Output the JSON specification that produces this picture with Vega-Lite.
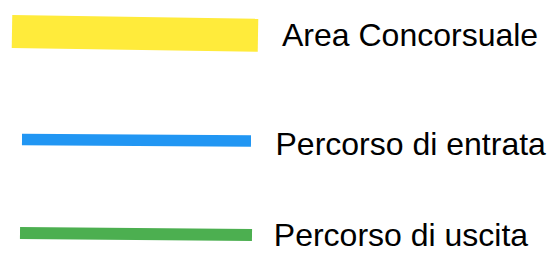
{
  "$schema": "https://vega.github.io/schema/vega-lite/v6.json",
  "width": 551,
  "height": 270,
  "autosize": {"type": "none"},
  "padding": 0,
  "background": "white",
  "config": {"view": {"stroke": null}},
  "datasets": {
    "lines": [
      {"series": "Area Concorsuale", "x": 12, "y": 31.4},
      {"series": "Area Concorsuale", "x": 258, "y": 35.3},
      {"series": "Percorso di entrata", "x": 22, "y": 139.6},
      {"series": "Percorso di entrata", "x": 251, "y": 141},
      {"series": "Percorso di uscita", "x": 20, "y": 233},
      {"series": "Percorso di uscita", "x": 252, "y": 235}
    ],
    "labels": [
      {"label": "Area Concorsuale", "x": 282, "y": 45.7},
      {"label": "Percorso di entrata", "x": 275.5, "y": 154.6},
      {"label": "Percorso di uscita", "x": 273.8, "y": 246.1}
    ]
  },
  "encoding": {
    "x": {"field": "x", "type": "quantitative", "scale": {"domain": [0, 551], "nice": false, "zero": false}, "axis": null},
    "y": {"field": "y", "type": "quantitative", "scale": {"domain": [0, 270], "nice": false, "zero": false, "reverse": true}, "axis": null}
  },
  "layer": [
    {
      "data": {"name": "lines"},
      "transform": [{"filter": "datum.series === 'Area Concorsuale'"}],
      "mark": {"type": "line", "strokeWidth": 33, "strokeCap": "butt", "color": "#FFEB3B"},
      "encoding": {"detail": {"field": "series"}}
    },
    {
      "data": {"name": "lines"},
      "transform": [{"filter": "datum.series === 'Percorso di entrata'"}],
      "mark": {"type": "line", "strokeWidth": 11.5, "strokeCap": "butt", "color": "#2196F3"},
      "encoding": {"detail": {"field": "series"}}
    },
    {
      "data": {"name": "lines"},
      "transform": [{"filter": "datum.series === 'Percorso di uscita'"}],
      "mark": {"type": "line", "strokeWidth": 12, "strokeCap": "butt", "color": "#4CAF50"},
      "encoding": {"detail": {"field": "series"}}
    },
    {
      "data": {"name": "labels"},
      "mark": {"type": "text", "align": "left", "baseline": "alphabetic", "font": "Liberation Sans", "fontSize": 32, "color": "#000000"},
      "encoding": {"text": {"field": "label"}}
    }
  ]
}
